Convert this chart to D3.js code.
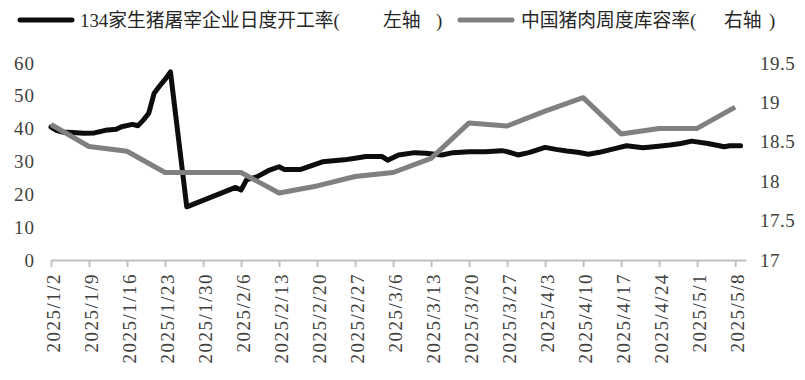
<!DOCTYPE html>
<html>
<head>
<meta charset="utf-8">
<script src="https://cdn.jsdelivr.net/npm/d3@7/dist/d3.min.js"></script>
<style>
  html, body { margin: 0; padding: 0; background: #fff; }
  svg { display: block; }
</style>
</head>
<body>
<svg id="chart" width="805" height="380"></svg>
<script>
// ---------- DATA ----------
const seriesNames = ["134家生猪屠宰企业日度开工率(", "中国猪肉周度库容率("];
const axisTags = ["左轴", "右轴"];

const blackDates = [
  "2025-01-02","2025-01-03","2025-01-04","2025-01-06","2025-01-08","2025-01-10","2025-01-12",
  "2025-01-14","2025-01-15","2025-01-17","2025-01-18","2025-01-19","2025-01-20","2025-01-21",
  "2025-01-22","2025-01-23","2025-01-24","2025-01-27",
  "2025-02-05","2025-02-06","2025-02-07","2025-02-09","2025-02-11","2025-02-13","2025-02-14",
  "2025-02-17","2025-02-21","2025-02-25","2025-02-27","2025-03-01","2025-03-02","2025-03-04",
  "2025-03-05","2025-03-07","2025-03-10","2025-03-12","2025-03-15","2025-03-17","2025-03-20",
  "2025-03-23","2025-03-26","2025-03-27","2025-03-29","2025-03-31","2025-04-03","2025-04-05",
  "2025-04-07","2025-04-09","2025-04-11","2025-04-13","2025-04-16","2025-04-18","2025-04-21",
  "2025-04-23","2025-04-26","2025-04-28","2025-04-30","2025-05-03","2025-05-06","2025-05-07",
  "2025-05-09"
];
const blackValues = [
  40.5, 39.5, 39.0, 38.8, 38.6, 38.7, 39.5,
  39.8, 40.6, 41.3, 40.9, 42.6, 44.7, 50.8,
  53.0, 55.0, 57.3, 16.2,
  22.1, 21.3, 24.4, 25.4, 27.2, 28.4, 27.6,
  27.6, 29.9, 30.5, 31.0, 31.5, 31.5, 31.5,
  30.4, 32.0, 32.7, 32.5, 32.0, 32.7, 33.0,
  33.0, 33.3, 33.0, 32.0, 32.7, 34.3, 33.7,
  33.2, 32.8, 32.2, 32.8, 34.0, 34.8, 34.2,
  34.5, 35.0, 35.5, 36.2, 35.5, 34.5, 34.8,
  34.8
];

const grayDates = [
  "2025-01-02","2025-01-09","2025-01-16","2025-01-23","2025-01-30","2025-02-06","2025-02-13",
  "2025-02-20","2025-02-27","2025-03-06","2025-03-13","2025-03-20","2025-03-27","2025-04-03",
  "2025-04-10","2025-04-17","2025-04-24","2025-05-01","2025-05-08"
];
const grayValues = [
  18.72, 18.44, 18.38, 18.11, 18.11, 18.11, 17.85,
  17.94, 18.06, 18.11, 18.29, 18.74, 18.70, 18.89,
  19.06, 18.60, 18.67, 18.67, 18.94
];

const xTickLabels = [
  "2025/1/2","2025/1/9","2025/1/16","2025/1/23","2025/1/30","2025/2/6","2025/2/13",
  "2025/2/20","2025/2/27","2025/3/6","2025/3/13","2025/3/20","2025/3/27","2025/4/3",
  "2025/4/10","2025/4/17","2025/4/24","2025/5/1","2025/5/8"
];
const leftTicks = [0, 10, 20, 30, 40, 50, 60];
const rightTicks = [17, 17.5, 18, 18.5, 19, 19.5];

// ---------- HELPERS ----------
const parseISO = s => { const [y,m,d] = s.split("-").map(Number); return new Date(y, m-1, d); };
const parseSlash = s => { const [y,m,d] = s.split("/").map(Number); return new Date(y, m-1, d); };
const fmtSlash = d => `${d.getFullYear()}/${d.getMonth()+1}/${d.getDate()}`;

const blackData = blackDates.map((d,i) => ({date: parseISO(d), v: blackValues[i]}));
const grayData = grayDates.map((d,i) => ({date: parseISO(d), v: grayValues[i]}));
const tickDates = xTickLabels.map(parseSlash);

// ---------- SCALES ----------
const svg = d3.select("#chart");
const x = d3.scaleTime().domain([new Date(2025,0,2), new Date(2025,4,10)]).range([51, 746]);
const yL = d3.scaleLinear().domain([0, 60]).range([260, 63]);
const yR = d3.scaleLinear().domain([17, 19.5]).range([260, 63]);

const serif = "'Liberation Serif','Times New Roman',serif";
const textColor = "#404040";

// ---------- X AXIS ----------
const xAxis = svg.append("g").attr("transform", "translate(0,260)")
  .call(d3.axisBottom(x).tickValues(tickDates).tickFormat(fmtSlash).tickSize(7).tickSizeOuter(0));
xAxis.select(".domain").attr("stroke", "#c0c0c0").attr("stroke-width", 2);
xAxis.selectAll(".tick line").attr("stroke", "#c0c0c0").attr("stroke-width", 2);
xAxis.selectAll(".tick text")
  .attr("transform", "rotate(-90)")
  .attr("x", -13).attr("y", 1.5).attr("dy", "0.35em")
  .attr("text-anchor", "end")
  .style("font-family", serif).style("font-size", "19px").style("letter-spacing", "1.5px")
  .attr("fill", textColor);

// ---------- Y AXES ----------
const yAxisL = svg.append("g").attr("transform", "translate(35,0)")
  .call(d3.axisLeft(yL).tickValues(leftTicks).tickSize(0).tickPadding(0));
yAxisL.select(".domain").remove();
yAxisL.selectAll(".tick text")
  .style("font-family", serif).style("font-size", "19px").style("letter-spacing", "1px")
  .attr("fill", textColor);

const yAxisR = svg.append("g").attr("transform", "translate(760,0)")
  .call(d3.axisRight(yR).tickValues(rightTicks).tickSize(0).tickPadding(0).tickFormat(d3.format("")));
yAxisR.select(".domain").remove();
yAxisR.selectAll(".tick text")
  .style("font-family", serif).style("font-size", "19px").style("letter-spacing", "0.5px")
  .attr("fill", textColor);

// ---------- LINES ----------
const lineL = d3.line().x(d => x(d.date)).y(d => yL(d.v));
const lineR = d3.line().x(d => x(d.date)).y(d => yR(d.v));

svg.append("path").datum(blackData).attr("d", lineL)
  .attr("fill", "none").attr("stroke", "#0d0d0d").attr("stroke-width", 5)
  .attr("stroke-linejoin", "round").attr("stroke-linecap", "round");
svg.append("path").datum(grayData).attr("d", lineR)
  .attr("fill", "none").attr("stroke", "#808080").attr("stroke-width", 5)
  .attr("stroke-linejoin", "round").attr("stroke-linecap", "butt");

// ---------- LEGEND ----------
const legendFont = "'Liberation Serif','Noto Sans CJK SC',serif";
const legendItems = [
  {color: "#0d0d0d", x1: 20, x2: 72, tx: 80, tagX: 383, closeX: 436, name: seriesNames[0], tag: axisTags[0]},
  {color: "#808080", x1: 460, x2: 512, tx: 521, tagX: 724, closeX: 769, name: seriesNames[1], tag: axisTags[1]}
];
legendItems.forEach(it => {
  svg.append("line").attr("x1", it.x1).attr("x2", it.x2).attr("y1", 20).attr("y2", 20)
    .attr("stroke", it.color).attr("stroke-width", 5).attr("stroke-linecap", "round");
  const t = svg.append("text").attr("y", 27)
    .style("font-family", legendFont).style("font-size", "18.8px").attr("fill", "#262626");
  t.append("tspan").attr("x", it.tx).text(it.name);
  t.append("tspan").attr("x", it.tagX).text(it.tag);
  t.append("tspan").attr("x", it.closeX).text(")");
});
</script>
</body>
</html>
